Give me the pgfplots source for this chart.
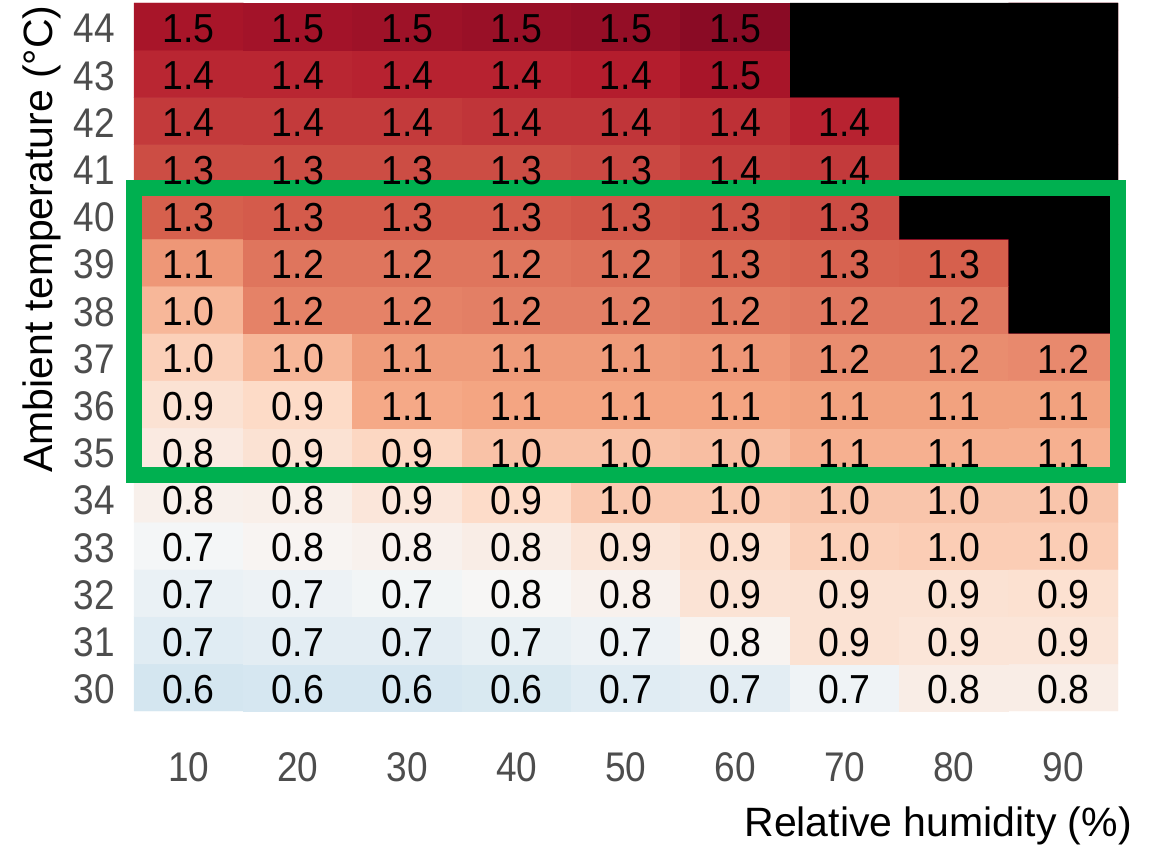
\documentclass[border=0pt]{standalone}
\usepackage{pgfplots}
\usepackage{pgfplotstable}
\usepackage{graphicx}
\pgfplotsset{compat=1.18}
\usepackage{fontspec}
\setmainfont{Liberation Sans}
\definecolor{tickgray}{HTML}{4D4D4D}
\definecolor{boxgreen}{RGB}{0,176,80}

% x = humidity, y = temperature, c = shade, v = printed value
\pgfplotstableread{
x y c v
10 30 0.61 0.6
20 30 0.62 0.6
30 30 0.62 0.6
40 30 0.63 0.6
50 30 0.66 0.7
60 30 0.67 0.7
70 30 0.72 0.7
80 30 0.82 0.8
90 30 0.82 0.8
10 31 0.66 0.7
20 31 0.67 0.7
30 31 0.67 0.7
40 31 0.69 0.7
50 31 0.71 0.7
60 31 0.78 0.8
70 31 0.90 0.9
80 31 0.88 0.9
90 31 0.88 0.9
10 32 0.70 0.7
20 32 0.71 0.7
30 32 0.73 0.7
40 32 0.76 0.8
50 32 0.79 0.8
60 32 0.89 0.9
70 32 0.90 0.9
80 32 0.90 0.9
90 32 0.91 0.9
10 33 0.74 0.7
20 33 0.77 0.8
30 33 0.79 0.8
40 33 0.82 0.8
50 33 0.88 0.9
60 33 0.92 0.9
70 33 0.98 1.0
80 33 0.99 1.0
90 33 0.99 1.0
10 34 0.80 0.8
20 34 0.81 0.8
30 34 0.87 0.9
40 34 0.94 0.9
50 34 1.00 1.0
60 34 1.00 1.0
70 34 1.01 1.0
80 34 1.01 1.0
90 34 1.01 1.0
10 35 0.84 0.8
20 35 0.90 0.9
30 35 0.96 0.9
40 35 1.02 1.0
50 35 1.02 1.0
60 35 1.03 1.0
70 35 1.07 1.1
80 35 1.07 1.1
90 35 1.07 1.1
10 36 0.90 0.9
20 36 0.95 0.9
30 36 1.09 1.1
40 36 1.10 1.1
50 36 1.10 1.1
60 36 1.10 1.1
70 36 1.11 1.1
80 36 1.11 1.1
90 36 1.11 1.1
10 37 0.98 1.0
20 37 1.05 1.0
30 37 1.13 1.1
40 37 1.13 1.1
50 37 1.13 1.1
60 37 1.14 1.1
70 37 1.17 1.2
80 37 1.17 1.2
90 37 1.18 1.2
10 38 1.05 1.0
20 38 1.20 1.2
30 38 1.20 1.2
40 38 1.21 1.2
50 38 1.21 1.2
60 38 1.22 1.2
70 38 1.23 1.2
80 38 1.23 1.2
90 38 1.50 {}
10 39 1.14 1.1
20 39 1.24 1.2
30 39 1.24 1.2
40 39 1.24 1.2
50 39 1.25 1.2
60 39 1.28 1.3
70 39 1.29 1.3
80 39 1.30 1.3
90 39 1.50 {}
10 40 1.30 1.3
20 40 1.31 1.3
30 40 1.31 1.3
40 40 1.31 1.3
50 40 1.32 1.3
60 40 1.33 1.3
70 40 1.34 1.3
80 40 1.50 {}
90 40 1.50 {}
10 41 1.34 1.3
20 41 1.34 1.3
30 41 1.34 1.3
40 41 1.34 1.3
50 41 1.35 1.3
60 41 1.37 1.4
70 41 1.38 1.4
80 41 1.50 {}
90 41 1.50 {}
10 42 1.38 1.4
20 42 1.38 1.4
30 42 1.38 1.4
40 42 1.39 1.4
50 42 1.39 1.4
60 42 1.40 1.4
70 42 1.43 1.4
80 42 1.50 {}
90 42 1.50 {}
10 43 1.42 1.4
20 43 1.42 1.4
30 43 1.43 1.4
40 43 1.43 1.4
50 43 1.44 1.4
60 43 1.47 1.5
70 43 1.50 {}
80 43 1.50 {}
90 43 1.50 {}
10 44 1.47 1.5
20 44 1.48 1.5
30 44 1.49 1.5
40 44 1.50 1.5
50 44 1.51 1.5
60 44 1.53 1.5
70 44 1.50 {}
80 44 1.50 {}
90 44 1.50 {}
}\cells

\begin{document}
\begin{tikzpicture}
\useasboundingbox (0pt,0pt) rectangle (1158pt,847pt);
\begin{axis}[
    at={(134pt,136pt)}, anchor=south west,
    scale only axis, width=984pt, height=708pt,
    xmin=5, xmax=95, ymin=29.5, ymax=44.5,
    clip=false,
    axis line style={draw=none},
    major tick length=0pt,
    xtick={10,20,...,90},
    ytick={30,31,...,44},
    /pgf/number format/assume math mode=true,
    xticklabel={\scalebox{1}[1.12]{\pgfmathprintnumber{\tick}}},
    yticklabel={\scalebox{1}[1.12]{\pgfmathprintnumber{\tick}}},
    tick label style={font=\fontsize{37}{44}\selectfont, text=tickgray},
    xticklabel style={anchor=center, yshift=-56.5pt},
    yticklabel style={anchor=east, inner sep=0pt, xshift=-19pt, yshift=-2pt},
    xlabel={Relative humidity (\%)},
    ylabel={Ambient temperature (°C)},
    label style={font=\fontsize{41}{48}\selectfont, inner sep=0pt},
    xlabel style={at={(axis description cs:1.0142,-0.1624)}, anchor=east},
    ylabel style={at={(axis description cs:-0.0935,0.997)}, anchor=east},
    colormap={obs}{rgb255(60pt)=(209,229,240) rgb255(75pt)=(247,247,247)
        rgb255(95pt)=(253,219,199) rgb255(110pt)=(244,165,130)
        rgb255(130pt)=(214,96,77) rgb255(145pt)=(178,24,43)
        rgb255(160pt)=(103,0,31)},
    point meta min=0.6, point meta max=1.6,
]
\addplot[matrix plot*, mesh/cols=9, point meta=explicit]
    table[x=x, y=y, meta=c] {\cells};
% cells with no value
\addplot[fill=black, draw=none] coordinates {
    (65,44.5) (95,44.5) (95,37.5) (85,37.5) (85,39.5)
    (75,39.5) (75,42.5) (65,42.5) (65,44.5)};
\addplot[only marks, mark=none, point meta=explicit symbolic,
    nodes near coords={\scalebox{1}[1.08]{\pgfplotspointmeta}},
    every node near coord/.append style={anchor=center, yshift=-2pt,
        font=\fontsize{37.5}{44}\selectfont, text=black}]
    table[x=x, y=y, meta=v] {\cells};
\draw[boxgreen, line width=16pt] (axis cs:5,34.5) rectangle (axis cs:95,40.57);
\end{axis}
\end{tikzpicture}
\end{document}
